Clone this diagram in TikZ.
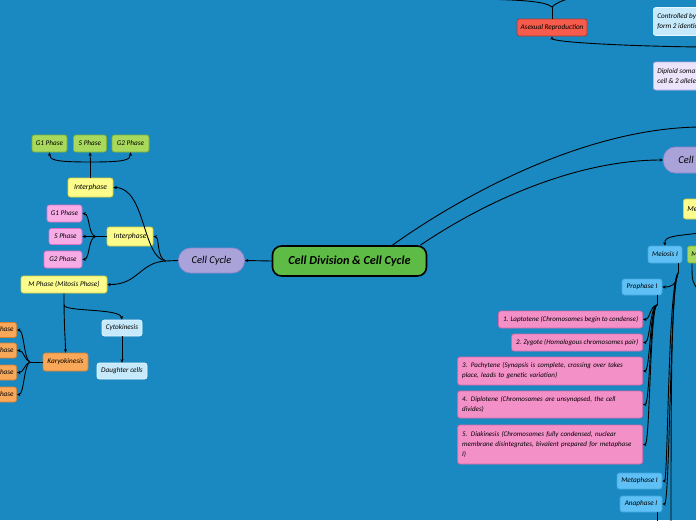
\documentclass[tikz,border=0pt]{standalone}
\usepackage{fontspec}
\setmainfont{Carlito}
\usetikzlibrary{arrows.meta}
\definecolor{bgblue}{HTML}{1B89C1}
\definecolor{rootgreen}{HTML}{5DBB46}
\definecolor{purp}{HTML}{A9A3DA}
\definecolor{purpd}{HTML}{8E86D0}
\definecolor{yel}{HTML}{FCFC8C}
\definecolor{yeld}{HTML}{D8D040}
\definecolor{grn}{HTML}{A8D85C}
\definecolor{grnd}{HTML}{7CB038}
\definecolor{pinkS}{HTML}{F8ACE6}
\definecolor{pinkSd}{HTML}{E070C8}
\definecolor{pinkL}{HTML}{F490C8}
\definecolor{pinkLd}{HTML}{D868A8}
\definecolor{org}{HTML}{F8A858}
\definecolor{orgd}{HTML}{D88030}
\definecolor{lblue}{HTML}{C6EAFB}
\definecolor{lblued}{HTML}{E8F6FF}
\definecolor{mblue}{HTML}{5EC0F5}
\definecolor{mblued}{HTML}{40A8E0}
\definecolor{redc}{HTML}{F65B4B}
\definecolor{redd}{HTML}{A83A30}
\definecolor{lav}{HTML}{ECE4FA}
\definecolor{lavd}{HTML}{B8A8E8}
\begin{document}
\begin{tikzpicture}[x=1pt,y=-1pt,
  box/.style={draw, rounded corners=2.5pt, line width=0.7pt, inner sep=0pt,
    font=\fontsize{7.2}{8}\selectfont\itshape, text=black},
  rootbox/.style={draw=black, fill=rootgreen, line width=1.6pt, rounded corners=9pt,
    minimum width=154pt, minimum height=30pt, inner sep=0pt,
    font=\fontsize{12.2}{14}\selectfont\bfseries\itshape},
  cycbox/.style={draw=purpd, fill=purp, line width=0.7pt, rounded corners=12pt,
    minimum height=25pt, inner sep=0pt, font=\fontsize{10.5}{12}\selectfont\itshape},
  ybox/.style={box, fill=yel, draw=yeld},
  ibox/.style={ybox, font=\fontsize{7.6}{9}\selectfont\itshape},
  gbox/.style={box, fill=grn, draw=grnd},
  pbox/.style={box, fill=pinkS, draw=pinkSd},
  obox/.style={box, fill=org, draw=orgd},
  lbbox/.style={box, fill=lblue, draw=lblued},
  mbbox/.style={box, fill=mblue, draw=mblued},
  pk/.style={box, fill=pinkL, draw=pinkLd, align=left, inner xsep=4.5pt, inner ysep=2.5pt,
    anchor=east, font=\fontsize{7}{10}\selectfont\itshape},
  ln/.style={draw=black, line width=0.9pt},
  arr/.style={ln, -{Stealth[length=3.5pt,width=3.2pt]}}
]
\fill[bgblue] (0,0) rectangle (696,520);
\useasboundingbox (0,0) rectangle (696,520);
\clip (0,0) rectangle (696,520);

% ---------- nodes ----------
\node[rootbox] (root) at (349.5,261) {Cell Division \& Cell Cycle};
\node[cycbox, minimum width=66pt] (cc) at (211.5,260.5) {Cell Cycle};

\node[ibox, minimum width=45pt, minimum height=19pt] (int1) at (90.5,187.5) {Interphase};
\node[gbox, minimum width=35pt, minimum height=17pt] (g1a) at (49.5,143.5) {G1 Phase};
\node[gbox, minimum width=33pt, minimum height=17pt] (s1a) at (90,143.5) {S Phase};
\node[gbox, minimum width=37pt, minimum height=17pt] (g2a) at (130.5,143.5) {G2 Phase};

\node[ibox, minimum width=46pt, minimum height=19pt] (int2) at (130,236.5) {Interphase};
\node[pbox, minimum width=35pt, minimum height=17pt] (g1b) at (64.5,213.5) {G1 Phase};
\node[pbox, minimum width=33pt, minimum height=16pt] (s1b) at (65.5,236.5) {S Phase};
\node[pbox, minimum width=38pt, minimum height=17pt] (g2b) at (63,259.5) {G2 Phase};

\node[ybox, minimum width=86pt, minimum height=17pt] (mp) at (64,284.5) {M Phase (Mitosis Phase)};
\node[obox, minimum width=45pt, minimum height=18pt] (kar) at (65.5,362) {Karyokinesis};
\node[lbbox, minimum width=40pt, minimum height=16pt] (cyt) at (122,328) {Cytokinesis};
\node[lbbox, minimum width=50pt, minimum height=16pt] (dau) at (122,371) {Daughter cells};

\node[obox, anchor=east, inner xsep=3pt, minimum height=15pt] (pro) at (17,330) {Prophase};
\node[obox, anchor=east, inner xsep=3pt, minimum height=15pt] (met) at (17,350.5) {Metaphase};
\node[obox, anchor=east, inner xsep=3pt, minimum height=15pt] (ana) at (17,372.5) {Anaphase};
\node[obox, anchor=east, inner xsep=3pt, minimum height=15pt] (tel) at (17,394.5) {Telophase};

% right side
\node[box, fill=redc, draw=redd, minimum width=70pt, minimum height=17pt] (asx) at (552,27.5) {Asexual Reproduction};
\node[box, fill=lblue, draw=lblued, anchor=west, align=left, inner xsep=4pt, minimum height=28pt,
  font=\fontsize{7.2}{10}\selectfont\itshape] (ctl) at (653,21.5) {Controlled by mitosis,\\form 2 identical cells};
\node[box, fill=lav, draw=lavd, anchor=west, align=left, inner xsep=4pt, minimum height=28pt,
  font=\fontsize{7.2}{10}\selectfont\itshape] (dip) at (653,76) {Diploid somatic\\cell \& 2 alleles};
\node[cycbox, anchor=west, inner xsep=15pt, minimum height=26pt] (cd) at (663,160) {Cell Division};
\node[ibox, anchor=west, inner xsep=4pt, minimum height=20pt] (meio) at (683,209) {Meiosis};
\node[mbbox, minimum width=34pt, minimum height=17pt] (mei1) at (665,254.5) {Meiosis I};
\node[gbox, anchor=west, inner xsep=4pt, minimum height=17pt] (mei2) at (687,254.5) {Meiosis II};
\node[mbbox, minimum width=40pt, minimum height=16pt] (pro1) at (642,287) {Prophase I};
\node[mbbox, minimum width=45pt, minimum height=16pt] (met1) at (639.5,481) {Metaphase I};
\node[mbbox, minimum width=42pt, minimum height=16pt] (ana1) at (641,504) {Anaphase I};

\node[pk, minimum height=17pt] (p1) at (643,319.5) {1. Laptotene (Chromosomes begin to condense)};
\node[pk, minimum height=17pt] (p2) at (643,342.5) {2. Zygote (Homologous chromosomes pair)};
\node[pk, text width=176pt, minimum height=28pt] (p3) at (643,371) {3. Pachytene (Synapsis is complete, crossing over takes\\place, leads to genetic variation)};
\node[pk, text width=176pt, minimum height=27pt] (p4) at (643,404.5) {4. Diplotene (Chromosomes are unsynapsed, the cell\\divides)};
\node[pk, text width=176pt, minimum height=39pt] (p5) at (643,444.5) {5. Diakinesis (Chromosomes fully condensed, nuclear\\membrane disintegrates, bivalent prepared for metaphase\\I)};

% ---------- connectors ----------
\draw[arr] (root.west) -- (cc.east);
\coordinate (jcc) at (166,261);
\draw[ln] (cc.west) -- (jcc);
\draw[arr] (jcc) .. controls (142,258) and (146,188) .. (int1.east);
\draw[arr] (jcc) .. controls (156,258) and (160,237) .. (int2.east);
\draw[arr] (jcc) .. controls (140,262) and (138,285) .. (mp.east);

\coordinate (ji1) at (90.5,162);
\draw[ln] (int1.north) -- (ji1);
\draw[arr] (ji1) .. controls (55,162) and (49.5,160) .. (g1a.south);
\draw[arr] (ji1) -- (s1a.south);
\draw[arr] (ji1) .. controls (125,162) and (130.5,160) .. (g2a.south);

\coordinate (ji2) at (96,236.5);
\draw[ln] (int2.west) -- (ji2);
\draw[arr] (ji2) .. controls (88,236) and (90,214) .. (g1b.east);
\draw[arr] (ji2) -- (s1b.east);
\draw[arr] (ji2) .. controls (88,237) and (90,259) .. (g2b.east);

\coordinate (jm) at (64,305);
\draw[arr] (mp.south) .. controls (64,330) and (65.5,340) .. (kar.north);
\draw[arr] (jm) .. controls (64,312) and (120,308) .. (cyt.north);
\draw[arr] (cyt.south) -- (dau.north);

\coordinate (jk) at (30,362);
\draw[ln] (kar.west) -- (jk);
\draw[arr] (jk) .. controls (24,360) and (24,330) .. (pro.east);
\draw[arr] (jk) .. controls (24,360) and (24,350.5) .. (met.east);
\draw[arr] (jk) .. controls (24,364) and (24,372.5) .. (ana.east);
\draw[arr] (jk) .. controls (24,364) and (24,394.5) .. (tel.east);

% right side connectors
\coordinate (offA) at (700,127);
\draw[ln] ([xshift=-35pt]root.north east) .. controls (470,190) and (590,128) .. (offA);
\draw[arr] ([xshift=-7pt]root.north east) .. controls (490,198) and (580,160) .. (cd.west);

\coordinate (ja) at (552,7);
\draw[ln] (asx.north) -- (ja);
\draw[ln] (ja) .. controls (545,1) and (520,0) .. (480,-1);
\draw[ln] (ja) .. controls (558,1) and (568,-1) .. (578,-4);
\coordinate (offAs) at (700,47);
\draw[arr] (offAs) .. controls (620,46) and (552,42) .. (asx.south);

\coordinate (offM) at (700,233);
\draw[arr] (offM) .. controls (675,236) and (664,236) .. (mei1.north);

\coordinate (jm1) at (678,273);
\draw[ln] (mei1.south -| jm1) -- (jm1);
\draw[arr] (jm1) .. controls (676,285) and (672,287) .. (pro1.east);
\draw[arr] (jm1) .. controls (668,285) and (668,481) .. (met1.east);
\draw[arr] (jm1) .. controls (670,285) and (670,504) .. (ana1.east);
\coordinate (offB) at (671,530);
\draw[ln] (jm1) .. controls (671,290) and (671,400) .. (offB);
\coordinate (offC) at (657,530);
\draw[ln] (ana1.south -| offC) -- (offC);
\coordinate (offD) at (700,292);
\draw[ln] ([xshift=5pt]mei2.south west) .. controls (692,282) .. (offD);

\coordinate (jp) at (657,305);
\draw[ln] (pro1.south -| jp) -- (jp);
\draw[arr] (jp) .. controls (650,306) and (650,319.5) .. (p1.east);
\draw[arr] (jp) .. controls (650,306) and (650,342.5) .. (p2.east);
\draw[arr] (jp) .. controls (650,306) and (650,371) .. (p3.east);
\draw[arr] (jp) .. controls (650,306) and (650,404.5) .. (p4.east);
\draw[arr] (jp) .. controls (650,306) and (650,444.5) .. (p5.east);
\end{tikzpicture}
\end{document}
